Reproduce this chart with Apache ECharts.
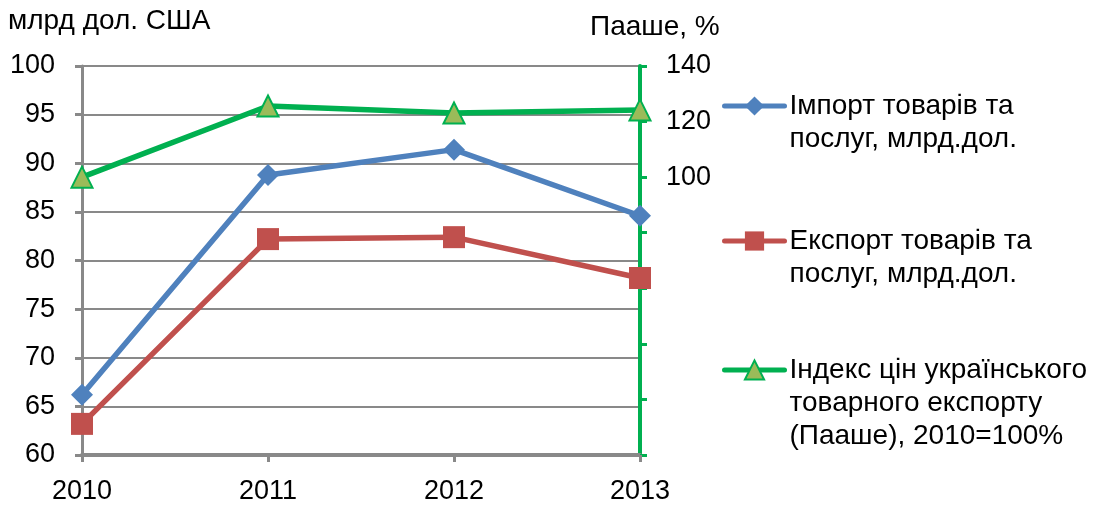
<!DOCTYPE html>
<html>
<head>
<meta charset="utf-8">
<script src="https://cdn.jsdelivr.net/npm/echarts@6/dist/echarts.min.js"></script>
<style>
  html, body { margin: 0; padding: 0; background: #fff; }
  #chart { width: 1097px; height: 506px; }
</style>
</head>
<body>
<div id="chart"></div>
<script>
// Роки
const years = ['2010', '2011', '2012', '2013'];
// Імпорт і експорт, млрд дол. США
const importValues = [66.2, 88.8, 91.4, 84.6];
const exportValues = [63.2, 82.2, 82.4, 78.2];
// Індекс Пааше, 2010 = 100%
const paascheValues = [100, 125.6, 123.1, 124.2];

const importName = 'Імпорт товарів та\nпослуг, млрд.дол.';
const exportName = 'Експорт товарів та\nпослуг, млрд.дол.';
const paascheName = 'Індекс цін українського\nтоварного експорту\n(Пааше), 2010=100%';

const FONT = 'Liberation Sans, Arial, sans-serif';
const TICK_FONT = 27;
const TEXT_FONT = 28;
const LINE_H = 33;
const GRAY = '#898989';
const GREEN = '#00B050';

// Legend entry whose first text line sits level with the icon:
// blank lines are prepended so the centred block's middle line is the first real one.
function legendAt(name, iconY) {
  const lines = name.split('\n').length;
  const pad = lines - 1;
  const total = lines + pad;
  return {
    data: [name],
    left: 722,
    top: iconY - (total * LINE_H) / 2,
    padding: 0,
    itemWidth: 60,
    itemHeight: 24,
    itemGap: 0,
    selectedMode: false,
    lineStyle: { width: 5, cap: 'round' },
    formatter: n => '\n'.repeat(pad) + n,
    textStyle: {
      fontFamily: FONT,
      fontSize: TEXT_FONT,
      color: '#000',
      lineHeight: LINE_H
    }
  };
}

const chart = echarts.init(document.getElementById('chart'), null, { renderer: 'canvas' });
chart.setOption({
  animation: false,
  textStyle: { fontFamily: FONT },
  title: [
    { text: 'млрд дол. США', left: 8, top: 7, padding: 0,
      textStyle: { fontFamily: FONT, fontSize: TEXT_FONT, fontWeight: 'normal', color: '#000' } },
    { text: 'Пааше, %', left: 590, top: 13, padding: 0,
      textStyle: { fontFamily: FONT, fontSize: TEXT_FONT, fontWeight: 'normal', color: '#000' } }
  ],
  legend: [
    legendAt(importName, 106),
    legendAt(exportName, 241),
    legendAt(paascheName, 370)
  ],
  grid: { left: 82, right: 457, top: 66, bottom: 51, containLabel: false },
  xAxis: {
    type: 'category',
    data: years,
    boundaryGap: false,
    axisLine: { lineStyle: { color: GRAY, width: 4 } },
    axisTick: { show: true, alignWithLabel: true, length: 7, lineStyle: { color: GRAY, width: 3 } },
    axisLabel: { color: '#000', fontSize: TICK_FONT, fontFamily: FONT, margin: 23 },
    splitLine: { show: false }
  },
  yAxis: [
    {
      type: 'value',
      min: 60, max: 100, interval: 5,
      position: 'left',
      axisLine: { show: true, lineStyle: { color: GRAY, width: 3 } },
      axisTick: { show: true, length: 7, lineStyle: { color: GRAY, width: 3 } },
      axisLabel: { color: '#000', fontSize: TICK_FONT, fontFamily: FONT, margin: 27 },
      splitLine: { show: true, lineStyle: { color: GRAY, width: 2 } }
    },
    {
      type: 'value',
      min: 0, max: 140, interval: 20,
      position: 'right',
      axisLine: { show: true, lineStyle: { color: GREEN, width: 4 } },
      axisTick: { show: true, length: 7, lineStyle: { color: GREEN, width: 3 } },
      axisLabel: {
        color: '#000', fontSize: TICK_FONT, fontFamily: FONT, margin: 26,
        formatter: v => (v >= 100 ? String(v) : '')
      },
      splitLine: { show: false }
    }
  ],
  series: [
    {
      name: importName, type: 'line', yAxisIndex: 0, data: importValues,
      symbol: 'diamond', symbolSize: 22,
      lineStyle: { color: '#4F81BD', width: 5.5 },
      itemStyle: { color: '#4F81BD' }, z: 3
    },
    {
      name: exportName, type: 'line', yAxisIndex: 0, data: exportValues,
      symbol: 'rect', symbolSize: 22,
      lineStyle: { color: '#C0504D', width: 5.5 },
      itemStyle: { color: '#C0504D' }, z: 3
    },
    {
      name: paascheName, type: 'line', yAxisIndex: 1, data: paascheValues,
      symbol: 'triangle', symbolSize: 21,
      lineStyle: { color: GREEN, width: 5.5 },
      itemStyle: { color: '#9BBB59', borderColor: GREEN, borderWidth: 2 }, z: 4
    }
  ]
});
</script>
</body>
</html>
